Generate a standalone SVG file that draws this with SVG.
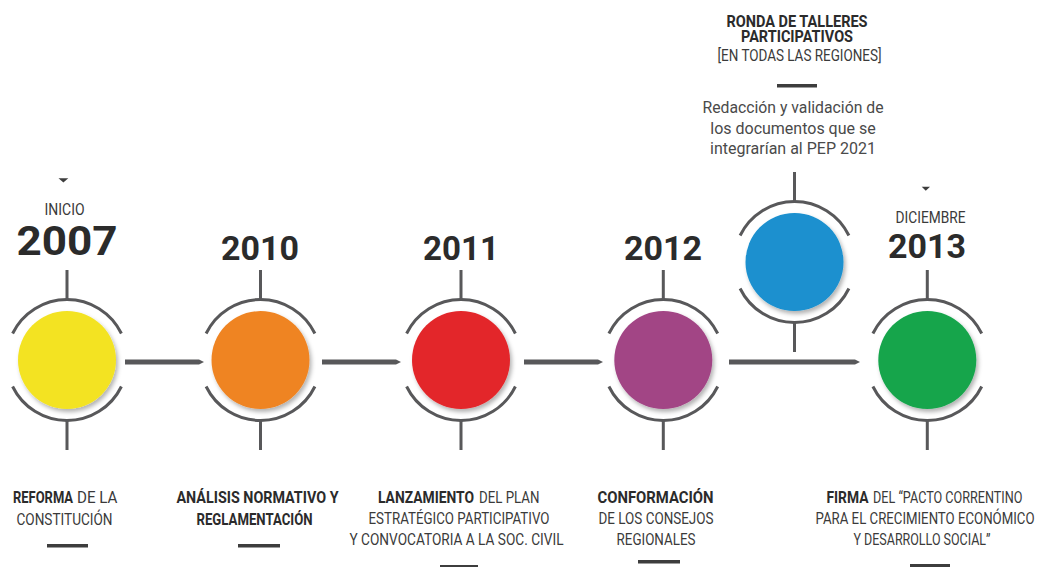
<svg xmlns="http://www.w3.org/2000/svg" xmlns:xlink="http://www.w3.org/1999/xlink" width="1040" height="567" viewBox="0 0 1040 567">
<style>
.ln{fill:none;stroke:#58585a;stroke-width:3}
.bar{fill:#3d3d3d}
.con{fill:#58585a}
.yr{font-family:Roboto,"Liberation Sans",sans-serif;font-weight:700;fill:#2b2b2b;text-anchor:middle}
.lb{font-family:Roboto,"Liberation Sans",sans-serif;font-size:16px;fill:#3a3a3a;text-anchor:middle}
.st{text-anchor:start}
.b{font-weight:700;fill:#2b2b2b}
.sm{font-family:Roboto,"Liberation Sans",sans-serif;font-size:16px;fill:#4a4a4a;text-anchor:middle}
.tri{fill:#3d3d3d}
</style>
<defs>
<filter id="sh" x="-20%" y="-20%" width="150%" height="150%">
<feDropShadow dx="2" dy="3" stdDeviation="2" flood-color="#000" flood-opacity="0.3"/>
</filter>
<g id="ring">
<path class="ln" d="M-54.4,-26.5 A60.5,60.5 0 0 1 54.4,-26.5"/>
<path class="ln" d="M-54.4,26.5 A60.5,60.5 0 0 0 54.4,26.5"/>
<path class="ln" d="M0,-90 V-60 M0,61 V90"/>
</g>
</defs>
<rect width="1040" height="567" fill="#fff"/>
<g id="connectors">
<path class="con" d="M125,359.5 H199 L204,362 L199,364.5 H125 Z"/>
<path class="con" d="M322,359.5 H396 L401,362 L396,364.5 H322 Z"/>
<path class="con" d="M524,359.5 H598 L603,362 L598,364.5 H524 Z"/>
<path class="con" d="M729,359.5 H855 L860,362 L855,364.5 H729 Z"/>
</g>
<g id="node-2007">
<use xlink:href="#ring" transform="translate(67,360)"/>
<circle cx="67" cy="360" r="49" fill="#f3e322" filter="url(#sh)"/>
<polygon class="tri" points="58.5,178.3 68.3,178.3 63.4,182.5"/>
<text class="lb" transform="translate(64.5,215) scale(.82,1)" textLength="48.8" lengthAdjust="spacingAndGlyphs">INICIO</text>
<text class="yr" x="67" y="255" font-size="40" textLength="101" lengthAdjust="spacingAndGlyphs">2007</text>
<text class="lb b st" transform="translate(13,503) scale(.82,1)" textLength="73.2" lengthAdjust="spacingAndGlyphs">REFORMA</text>
<text class="lb st" transform="translate(77,503) scale(.82,1)" textLength="49.4" lengthAdjust="spacingAndGlyphs">DE LA</text>
<text class="lb" transform="translate(64.5,525) scale(.82,1)" textLength="117.1" lengthAdjust="spacingAndGlyphs">CONSTITUCIÓN</text>
<rect class="bar" x="47" y="544" width="41" height="3.5"/>
</g>
<g id="node-2010">
<use xlink:href="#ring" transform="translate(260.5,360)"/>
<circle cx="260.5" cy="360" r="49" fill="#ef8423" filter="url(#sh)"/>
<text class="yr" x="260" y="260" font-size="32.5" textLength="78" lengthAdjust="spacingAndGlyphs">2010</text>
<text class="lb b" transform="translate(257.5,503) scale(.82,1)" textLength="197.6" lengthAdjust="spacingAndGlyphs">ANÁLISIS NORMATIVO Y</text>
<text class="lb b" transform="translate(254.5,525) scale(.82,1)" textLength="141.5" lengthAdjust="spacingAndGlyphs">REGLAMENTACIÓN</text>
<rect class="bar" x="238" y="544" width="42" height="3.5"/>
</g>
<g id="node-2011">
<use xlink:href="#ring" transform="translate(461,360)"/>
<circle cx="461" cy="360" r="49" fill="#e3262a" filter="url(#sh)"/>
<text class="yr" x="461" y="260" font-size="32.5" textLength="76" lengthAdjust="spacingAndGlyphs">2011</text>
<text class="lb b st" transform="translate(378,503) scale(.82,1)" textLength="117.1" lengthAdjust="spacingAndGlyphs">LANZAMIENTO</text>
<text class="lb st" transform="translate(479,503) scale(.82,1)" textLength="73.8" lengthAdjust="spacingAndGlyphs">DEL PLAN</text>
<text class="lb" transform="translate(459,524) scale(.82,1)" textLength="220.7" lengthAdjust="spacingAndGlyphs">ESTRATÉGICO PARTICIPATIVO</text>
<text class="lb" transform="translate(456.5,545) scale(.82,1)" textLength="261" lengthAdjust="spacingAndGlyphs">Y CONVOCATORIA A LA SOC. CIVIL</text>
<rect class="bar" x="440" y="565" width="38" height="3"/>
</g>
<g id="node-2012">
<use xlink:href="#ring" transform="translate(663.3,360)"/>
<circle cx="663.3" cy="360" r="49" fill="#a24585" filter="url(#sh)"/>
<text class="yr" x="663" y="260" font-size="32.5" textLength="78" lengthAdjust="spacingAndGlyphs">2012</text>
<text class="lb b" transform="translate(655.5,503) scale(.82,1)" textLength="141.5" lengthAdjust="spacingAndGlyphs">CONFORMACIÓN</text>
<text class="lb" transform="translate(656,524) scale(.82,1)" textLength="140.2" lengthAdjust="spacingAndGlyphs">DE LOS CONSEJOS</text>
<text class="lb" transform="translate(656,545) scale(.82,1)" textLength="96.3" lengthAdjust="spacingAndGlyphs">REGIONALES</text>
<rect class="bar" x="638" y="560" width="42" height="3.5"/>
</g>
<g id="node-talleres">
<use xlink:href="#ring" transform="translate(794.5,262)"/>
<circle cx="794.5" cy="262" r="49" fill="#1a90cf" filter="url(#sh)"/>
<text class="lb b" font-size="15.5" transform="translate(797,26.5) scale(.82,1)"><tspan x="0" y="0" textLength="172" lengthAdjust="spacingAndGlyphs">RONDA DE TALLERES</tspan><tspan x="0" y="15.5" textLength="136.6" lengthAdjust="spacingAndGlyphs">PARTICIPATIVOS</tspan></text>
<text class="lb" transform="translate(799.5,60.5) scale(.82,1)" textLength="200" lengthAdjust="spacingAndGlyphs">[EN TODAS LAS REGIONES]</text>
<rect class="bar" x="777" y="84" width="40" height="3.5"/>
<text class="sm" x="793" y="113" textLength="181" lengthAdjust="spacingAndGlyphs">Redacción y validación de</text>
<text class="sm" x="793" y="133.5">los documentos que se</text>
<text class="sm" x="793" y="154">integrarían al PEP 2021</text>
</g>
<g id="node-2013">
<use xlink:href="#ring" transform="translate(927.3,360)"/>
<circle cx="927.3" cy="360" r="49" fill="#14a54b" filter="url(#sh)"/>
<polygon class="tri" points="921.7,186.7 930,186.7 925.8,190.7"/>
<text class="lb" transform="translate(930.5,223) scale(.82,1)" textLength="85.4" lengthAdjust="spacingAndGlyphs">DICIEMBRE</text>
<text class="yr" x="927" y="258.3" font-size="32.5" textLength="78" lengthAdjust="spacingAndGlyphs">2013</text>
<text class="lb b st" transform="translate(826.5,503) scale(.82,1)" textLength="51.2" lengthAdjust="spacingAndGlyphs">FIRMA</text>
<text class="lb st" transform="translate(873,503) scale(.82,1)" textLength="182.3" lengthAdjust="spacingAndGlyphs">DEL “PACTO CORRENTINO</text>
<text class="lb" transform="translate(925,524) scale(.82,1)" textLength="267.1" lengthAdjust="spacingAndGlyphs">PARA EL CRECIMIENTO ECONÓMICO</text>
<text class="lb" transform="translate(922,545) scale(.82,1)" textLength="167.1" lengthAdjust="spacingAndGlyphs">Y DESARROLLO SOCIAL”</text>
<rect class="bar" x="910" y="564" width="40" height="3"/>
</g>
</svg>
